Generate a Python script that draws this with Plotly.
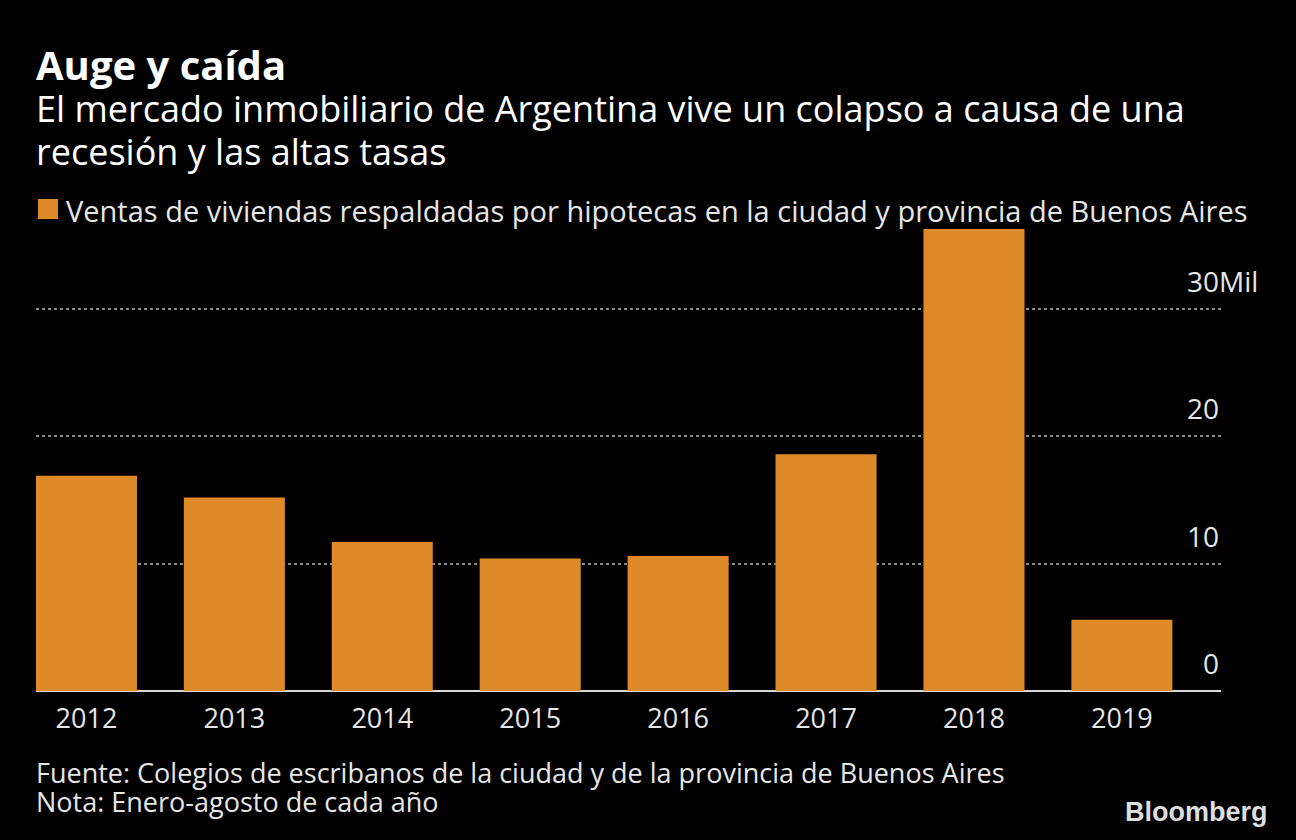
import plotly.graph_objects as go

years = ["2012", "2013", "2014", "2015", "2016", "2017", "2018", "2019"]
ventas = [16.9, 15.2, 11.7, 10.4, 10.6, 18.6, 36.3, 5.6]
tick_vals = [0, 10, 20, 30]
tick_text = ["0", "10", "20", "30"]
unit_label = "Mil"
legend_label = "Ventas de viviendas respaldadas por hipotecas en la ciudad y provincia de Buenos Aires"
title = "Auge y caída"
subtitle = ["El mercado inmobiliario de Argentina vive un colapso a causa de una",
            "recesión y las altas tasas"]
footer = ["Fuente: Colegios de escribanos de la ciudad y de la provincia de Buenos Aires",
          "Nota: Enero-agosto de cada año"]

FONT = "Open Sans"
BAR = "#DF8A28"
TXT = "#E6E6E6"

W, H = 1296, 840
ML, MR, MT, MB = 36, 75, 220, 149
plot_w = W - ML - MR
plot_h = H - MT - MB

def px(xp):
    return (xp - ML) / plot_w

def py(yp):
    return (H - MB - yp) / plot_h

fig = go.Figure()
fig.add_trace(go.Bar(
    x=years, y=ventas, name=legend_label,
    marker=dict(color=BAR, line=dict(width=0)),
))

fig.update_layout(
    width=W, height=H,
    paper_bgcolor="black", plot_bgcolor="black",
    margin=dict(l=ML, r=MR, t=MT, b=MB),
    bargap=0.317,
    font=dict(family=FONT, color=TXT, size=27),
    showlegend=False,
    xaxis=dict(showgrid=False, ticks="", tickfont=dict(size=27, color=TXT),
               showline=False, zeroline=False, range=[-0.341, 7.67],
               ticklabelstandoff=9),
    yaxis=dict(side="right", range=[0, 37], tickvals=tick_vals, showticklabels=False,
               showgrid=True, gridcolor="#8a8a8a", griddash="dot", gridwidth=1.5,
               zeroline=True, zerolinecolor="#d8d8d8", zerolinewidth=2,
               showline=False, ticks=""),
)

# y tick labels above gridlines
for v, t in zip(tick_vals, tick_text):
    fig.add_annotation(text=t, x=1, xref="paper", y=v, yref="y", yshift=28,
                       showarrow=False, xanchor="right", yanchor="middle",
                       font=dict(size=28, color=TXT, family=FONT))
fig.add_annotation(text=unit_label, x=1, xref="paper", y=tick_vals[-1], yref="y",
                   yshift=28, xshift=-4,
                   showarrow=False, xanchor="left", yanchor="middle",
                   font=dict(size=28, color=TXT, family=FONT))

# legend (manual swatch + label)
fig.add_shape(type="rect", xref="paper", yref="paper",
              x0=px(38), x1=px(58), y0=py(219), y1=py(199),
              fillcolor=BAR, line=dict(width=0))
fig.add_annotation(text=legend_label, x=px(64), y=py(210), xref="paper", yref="paper",
                   showarrow=False, xanchor="left", yanchor="middle",
                   font=dict(size=29, color=TXT, family=FONT))

# title block: one annotation, line spacing driven by base font size
head = ("<span style='font-size:40px'><b>" + title + "</b></span><br>"
        + "<br>".join("<span style='font-size:36px'>" + s + "</span>" for s in subtitle))
fig.add_annotation(text=head, x=px(34), y=py(106), xref="paper", yref="paper",
                   showarrow=False, xanchor="left", yanchor="middle", align="left",
                   font=dict(size=32.5, color="white", family=FONT))

foot = "<br>".join("<span style='font-size:27px'>" + s + "</span>" for s in footer)
fig.add_annotation(text=foot, x=px(34), y=py(786.5), xref="paper", yref="paper",
                   showarrow=False, xanchor="left", yanchor="middle", align="left",
                   font=dict(size=22.3, color=TXT, family=FONT))

fig.add_annotation(text="<b>Bloomberg</b>", x=px(1270), y=py(812), xref="paper", yref="paper",
                   showarrow=False, xanchor="right", yanchor="middle",
                   font=dict(size=27, color="#dddddd", family="Liberation Sans"))

fig.write_html("out.html", config={"displayModeBar": False},
               post_script="document.body.style.margin='0';document.body.style.background='black';")
